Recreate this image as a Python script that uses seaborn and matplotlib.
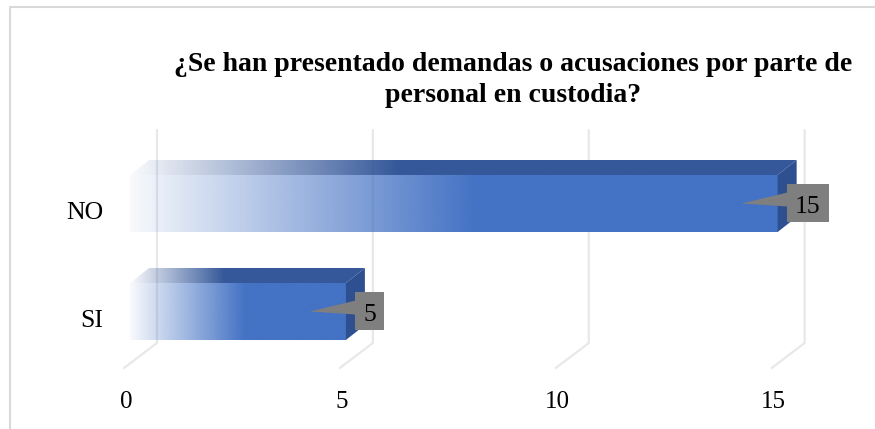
import numpy as np
import matplotlib
matplotlib.use('Agg')
import matplotlib.pyplot as plt
from matplotlib.patches import Polygon
from matplotlib.lines import Line2D
import seaborn as sns
import pandas as pd

categories = ['NO', 'SI']
values = [15, 5]
x_ticks = [0, 5, 10, 15]
title = '¿Se han presentado demandas o acusaciones por parte de\npersonal en custodia?'

W, H, DPI = 875, 429, 100
sns.set_theme(style='white')
plt.rcParams['font.family'] = ['Liberation Serif', 'DejaVu Serif']

fig = plt.figure(figsize=(W / DPI, H / DPI), dpi=DPI)
fig.patch.set_facecolor('white')

# axes placement (pixels, y down)
ax_l, ax_r, ax_t, ax_b = 130, 864, 120, 400
cat_px = 108.0      # pixels between category centres
first_c = 203.5     # pixel row of first bar centre
ax = fig.add_axes([ax_l / W, 1 - ax_b / H, (ax_r - ax_l) / W, (ax_b - ax_t) / H])

df = pd.DataFrame({'cat': categories, 'val': values})
sns.barplot(data=df, x='val', y='cat', orient='h', width=0.528,
            color='#4472C4', saturation=1, ax=ax, zorder=3)
ax.set_xlim(0, 17)
ax.set_ylim((ax_b - first_c) / cat_px, -(first_c - ax_t) / cat_px)
ax.set_autoscale_on(False)
ax.set_axis_off()


def to_px(x, y):
    d = ax.transData.transform((x, y))
    return d[0], H - d[1]


def to_data(px, py):
    return ax.transData.inverted().transform((px, H - py))


def poly_data(pts):
    return np.array([to_data(px, py) for px, py in pts])


# depth of floor / bars (pixels)
back_dx, floor_dx, floor_dy = 27, -6, 25
bar_dx, bar_dy = 19, 15
grid_top, grid_bot = 130, 343
grid_col = '#e8e8e8'

for v in x_ticks:
    bx, _ = to_px(v, 0)
    pts = poly_data([(bx + back_dx, grid_top), (bx + back_dx, grid_bot),
                     (bx + floor_dx, grid_bot + floor_dy)])
    ax.plot(pts[:, 0], pts[:, 1], color=grid_col, lw=1.6, zorder=1,
            clip_on=False, solid_joinstyle='miter')
    fig.text((bx - 4) / W, 1 - 408 / H, str(v), ha='center', va='baseline',
             fontsize=18, color='black')


def ramp_img(rgb, full_at, a0):
    n = 256
    t = np.linspace(0, 1, n)
    a = np.clip(a0 + (1 - a0) * t / full_at, 0, 1)
    img = np.zeros((1, n, 4))
    img[0, :, :3] = matplotlib.colors.to_rgb(rgb)
    img[0, :, 3] = a
    return img


front_col = '#4472C4'
top_col = '#35589A'
side_col = '#2E5090'
box_col = '#7F7F7F'

bars = list(ax.patches)
for patch, val, cat in zip(bars, values, categories):
    x0, y0 = patch.get_x(), patch.get_y()
    w, h = patch.get_width(), patch.get_height()
    L, T = to_px(x0, y0)
    R, B = to_px(x0 + w, y0 + h)
    if T > B:
        T, B = B, T
    patch.set_facecolor('none')
    patch.set_edgecolor('none')
    # front face gradient
    im = ax.imshow(ramp_img(front_col, 0.53, 0.04), extent=[x0, x0 + w, y0 + h, y0],
                   aspect='auto', interpolation='bilinear', zorder=3)
    im.set_clip_path(patch)
    # top face
    tpts = poly_data([(L, T), (R, T), (R + bar_dx, T - bar_dy), (L + bar_dx, T - bar_dy)])
    tpoly = Polygon(tpts, closed=True, facecolor='none', edgecolor='none', zorder=3)
    ax.add_patch(tpoly)
    ex0, ey0 = to_data(L, T)
    ex1, ey1 = to_data(R + bar_dx, T - bar_dy)
    im2 = ax.imshow(ramp_img(top_col, 0.4, 0.03), extent=[ex0, ex1, ey0, ey1],
                    aspect='auto', interpolation='bilinear', zorder=3)
    im2.set_clip_path(tpoly)
    # side face
    spts = poly_data([(R, T), (R + bar_dx, T - bar_dy), (R + bar_dx, B - bar_dy), (R, B)])
    ax.add_patch(Polygon(spts, closed=True, facecolor=side_col, edgecolor='none', zorder=3))
    # category label
    cy = (T + B) / 2
    fig.text(103 / W, 1 - (cy + 15.5) / H, cat, ha='right', va='baseline',
             fontsize=18.5, color='black')
    # data callout
    label = str(val)
    bw = 13 * len(label) + 16
    bl = R + 9
    bpts = poly_data([(bl, cy - 19), (bl + bw, cy - 19), (bl + bw, cy + 19), (bl, cy + 19)])
    ax.add_patch(Polygon(bpts, closed=True, facecolor=box_col, edgecolor='none',
                         zorder=5, clip_on=False))
    wpts = poly_data([(R - 36, cy), (bl + 1, cy - 11), (bl + 1, cy + 3)])
    ax.add_patch(Polygon(wpts, closed=True, facecolor=box_col, edgecolor='none',
                         zorder=5, clip_on=False))
    fig.text((bl + bw / 2) / W, 1 - (cy + 10) / H, label, ha='center', va='baseline',
             fontsize=18.5, color='black', zorder=6)

# title
fig.text(513 / W, 1 - 80 / H, title, ha='center', va='center', fontsize=20,
         fontweight='bold', linespacing=1.3, color='black')

# chart area border (left and top visible)
fig.add_artist(Line2D([10 / W, 10 / W, 1.0], [0.0, 1 - 7 / H, 1 - 7 / H],
                      transform=fig.transFigure, color='#d9d9d9', lw=1.5))

fig.savefig('out.png', dpi=DPI)
